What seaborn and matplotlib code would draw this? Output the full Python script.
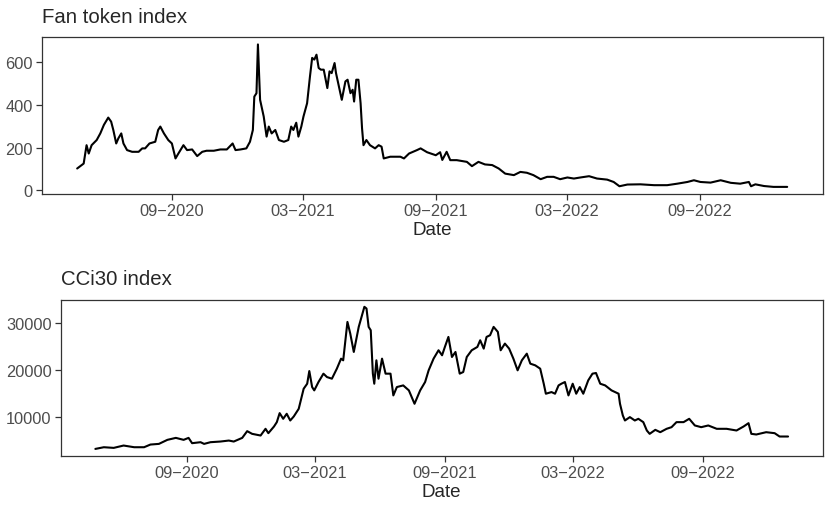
import matplotlib.dates as mdates
import matplotlib.pyplot as plt
import pandas as pd
import seaborn as sns

# === Plot style ===
plt.switch_backend("Agg")
sns.set_style("white")
plt.rcParams["font.family"] = ["Liberation Sans", "DejaVu Sans"]

TICK_GREY = "#4D4D4D"
BORDER = "#333333"

# === Data ===
FAN_DATES = [
    "2020-04-23", "2020-05-02", "2020-05-06", "2020-05-09", "2020-05-13", "2020-05-20",
    "2020-05-25", "2020-05-30", "2020-06-05", "2020-06-09", "2020-06-12", "2020-06-16",
    "2020-06-19", "2020-06-23", "2020-06-26", "2020-07-01", "2020-07-08", "2020-07-17",
    "2020-07-22", "2020-07-26", "2020-08-01", "2020-08-09", "2020-08-13", "2020-08-16",
    "2020-08-21", "2020-08-27", "2020-09-01", "2020-09-06", "2020-09-10", "2020-09-17",
    "2020-09-22", "2020-09-29", "2020-10-06", "2020-10-13", "2020-10-19", "2020-10-29",
    "2020-11-07", "2020-11-16", "2020-11-24", "2020-11-28", "2020-12-05", "2020-12-13",
    "2020-12-18", "2020-12-22", "2020-12-24", "2020-12-27", "2020-12-29", "2020-12-30",
    "2021-01-01", "2021-01-06", "2021-01-10", "2021-01-13", "2021-01-17", "2021-01-22",
    "2021-01-27", "2021-02-03", "2021-02-09", "2021-02-13", "2021-02-16", "2021-02-20",
    "2021-02-23", "2021-02-27", "2021-03-02", "2021-03-07", "2021-03-11", "2021-03-14",
    "2021-03-17", "2021-03-20", "2021-03-23", "2021-03-26", "2021-03-30", "2021-04-04",
    "2021-04-07", "2021-04-10", "2021-04-14", "2021-04-16", "2021-04-20", "2021-04-24",
    "2021-04-29", "2021-05-02", "2021-05-06", "2021-05-09", "2021-05-11", "2021-05-14",
    "2021-05-17", "2021-05-20", "2021-05-22", "2021-05-24", "2021-05-28", "2021-06-02",
    "2021-06-09", "2021-06-14", "2021-06-18", "2021-06-21", "2021-06-30", "2021-07-14",
    "2021-07-19", "2021-07-26", "2021-08-06", "2021-08-11", "2021-08-20", "2021-09-01",
    "2021-09-07", "2021-09-10", "2021-09-16", "2021-09-21", "2021-09-30", "2021-10-14",
    "2021-10-21", "2021-10-30", "2021-11-08", "2021-11-18", "2021-11-27", "2021-12-06",
    "2021-12-18", "2021-12-27", "2022-01-05", "2022-01-14", "2022-01-24", "2022-02-02",
    "2022-02-11", "2022-02-20", "2022-03-02", "2022-03-11", "2022-03-20", "2022-04-01",
    "2022-04-12", "2022-04-26", "2022-05-05", "2022-05-13", "2022-05-24", "2022-06-11",
    "2022-06-30", "2022-07-18", "2022-08-01", "2022-08-15", "2022-08-24", "2022-09-02",
    "2022-09-16", "2022-09-30", "2022-10-14", "2022-10-27", "2022-11-08", "2022-11-11",
    "2022-11-17", "2022-11-29", "2022-12-12", "2022-12-31",
]
FAN_VALUES = [
    102, 125, 211, 172, 211, 235,
    266, 306, 340, 321, 282, 219,
    243, 266, 219, 188, 180, 180,
    196, 196, 219, 227, 282, 298,
    266, 235, 219, 149, 172, 211,
    188, 191, 160, 180, 185, 185,
    191, 191, 219, 188, 191, 196,
    227, 282, 438, 454, 682, 595,
    423, 345, 251, 298, 266, 282,
    235, 227, 235, 298, 282, 316,
    251, 298, 345, 407, 533, 619,
    611, 634, 572, 564, 564, 478,
    556, 548, 595, 548, 485, 423,
    509, 517, 454, 470, 415, 517,
    517, 407, 290, 211, 235, 211,
    196, 211, 204, 149, 157, 157,
    149, 172, 188, 196, 178, 164,
    178, 142, 180, 141, 141, 133,
    113, 133, 121, 118, 102, 78,
    71, 86, 82, 71, 52, 63,
    63, 52, 60, 55, 60, 66,
    55, 50, 39, 19, 27, 28,
    24, 24, 31, 39, 47, 39,
    36, 47, 35, 31, 39, 19,
    28, 20, 16, 16,
]

CCI_DATES = [
    "2020-04-24", "2020-05-06", "2020-05-20", "2020-06-03", "2020-06-18", "2020-07-02",
    "2020-07-11", "2020-07-23", "2020-08-04", "2020-08-16", "2020-08-27", "2020-09-03",
    "2020-09-08", "2020-09-20", "2020-09-25", "2020-10-04", "2020-10-18", "2020-10-30",
    "2020-11-06", "2020-11-18", "2020-11-25", "2020-12-02", "2020-12-14", "2020-12-21",
    "2020-12-25", "2021-01-02", "2021-01-06", "2021-01-10", "2021-01-15", "2021-01-20",
    "2021-01-25", "2021-01-30", "2021-02-06", "2021-02-13", "2021-02-18", "2021-02-21",
    "2021-02-25", "2021-02-28", "2021-03-06", "2021-03-13", "2021-03-18", "2021-03-25",
    "2021-04-01", "2021-04-07", "2021-04-10", "2021-04-16", "2021-04-20", "2021-04-25",
    "2021-05-02", "2021-05-06", "2021-05-10", "2021-05-13", "2021-05-16", "2021-05-19",
    "2021-05-22", "2021-05-24", "2021-05-27", "2021-05-30", "2021-06-04", "2021-06-09",
    "2021-06-16", "2021-06-20", "2021-06-25", "2021-07-04", "2021-07-12", "2021-07-20",
    "2021-07-28", "2021-08-04", "2021-08-09", "2021-08-16", "2021-08-23", "2021-08-28",
    "2021-09-01", "2021-09-06", "2021-09-11", "2021-09-16", "2021-09-22", "2021-09-27",
    "2021-10-02", "2021-10-09", "2021-10-17", "2021-10-21", "2021-10-26", "2021-10-30",
    "2021-11-04", "2021-11-09", "2021-11-15", "2021-11-19", "2021-11-25", "2021-12-01",
    "2021-12-07", "2021-12-13", "2021-12-19", "2021-12-26", "2021-12-31", "2022-01-07",
    "2022-01-14", "2022-01-19", "2022-01-22", "2022-01-30", "2022-02-04", "2022-02-09",
    "2022-02-13", "2022-02-18", "2022-02-23", "2022-03-01", "2022-03-06", "2022-03-11",
    "2022-03-16", "2022-03-23", "2022-03-29", "2022-04-03", "2022-04-09", "2022-04-16",
    "2022-04-25", "2022-05-05", "2022-05-07", "2022-05-11", "2022-05-14", "2022-05-21",
    "2022-05-28", "2022-06-02", "2022-06-09", "2022-06-14", "2022-06-18", "2022-06-26",
    "2022-07-03", "2022-07-12", "2022-07-19", "2022-07-26", "2022-08-05", "2022-08-13",
    "2022-08-21", "2022-08-30", "2022-09-09", "2022-09-21", "2022-10-05", "2022-10-19",
    "2022-10-29", "2022-11-05", "2022-11-09", "2022-11-16", "2022-11-30", "2022-12-12",
    "2022-12-19", "2022-12-31",
]
CCI_VALUES = [
    3100, 3460, 3320, 3820, 3460, 3460,
    4030, 4170, 5030, 5450, 5030, 5450,
    4320, 4530, 4170, 4530, 4670, 4880,
    4670, 5450, 6880, 6310, 5950, 7380,
    6450, 7870, 8800, 10720, 9510, 10580,
    9150, 10010, 11640, 15910, 16980, 19680,
    16270, 15560, 17340, 19120, 18400, 18050,
    20180, 22320, 21960, 30140, 27650, 23740,
    29080, 31210, 33350, 32990, 29080, 28360,
    19120, 16980, 21960, 18050, 22320, 19120,
    19120, 14490, 16270, 16620, 15560, 12710,
    15560, 17340, 19830, 22320, 24100, 23030,
    24810, 26940, 22670, 23740, 19120, 19470,
    22670, 24100, 24810, 26230, 24450, 26940,
    27300, 29080, 28010, 24100, 25520, 24450,
    22320, 19830, 21960, 23380, 21250, 20890,
    20180, 16980, 14850, 15200, 14850, 16620,
    16980, 17340, 14490, 16980, 14850, 16270,
    14850, 17690, 19120, 19260, 16980, 16620,
    15560, 14850, 12710, 10220, 9150, 9870,
    9150, 9510, 8800, 7020, 6310, 7160,
    6660, 7380, 7730, 8800, 8800, 9510,
    8090, 7730, 8090, 7380, 7380, 7020,
    7870, 8580, 6310, 6170, 6660, 6450,
    5740, 5740,
]


def style_panel(ax: plt.Axes, title: str) -> None:
    ax.set_title(title, loc="left", fontsize=14.7, pad=11.3)
    ax.set_xlabel("Date", fontsize=13.5, labelpad=2)
    ax.set_ylabel("")
    ax.xaxis.set_major_locator(mdates.MonthLocator(bymonth=[3, 9]))
    ax.xaxis.set_major_formatter(mdates.DateFormatter("%m\u2212%Y"))
    ax.tick_params(bottom=True, left=True, length=4, width=0.9, color=BORDER,
                   labelcolor=TICK_GREY, labelsize=11.8, pad=2.5)
    for spine in ax.spines.values():
        spine.set_visible(True)
        spine.set_color(BORDER)
        spine.set_linewidth(0.9)
    ax.grid(False)


fan = pd.DataFrame({"date": pd.to_datetime(FAN_DATES), "value": FAN_VALUES})
cci = pd.DataFrame({"date": pd.to_datetime(CCI_DATES), "value": CCI_VALUES})

fig = plt.figure(figsize=(8.25, 5.06), dpi=100)
ax_top = fig.add_axes([0.0505, 0.6146, 0.9467, 0.3097])
ax_bot = fig.add_axes([0.0736, 0.0968, 0.9236, 0.3089])

sns.lineplot(data=fan, x="date", y="value", color="black", linewidth=1.5, ax=ax_top)
sns.lineplot(data=cci, x="date", y="value", color="black", linewidth=1.5, ax=ax_bot)

style_panel(ax_top, "Fan token index")
style_panel(ax_bot, "CCi30 index")
ax_top.set_yticks([0, 200, 400, 600])
ax_bot.set_yticks([10000, 20000, 30000])

fig.savefig("out.png", dpi=100)
